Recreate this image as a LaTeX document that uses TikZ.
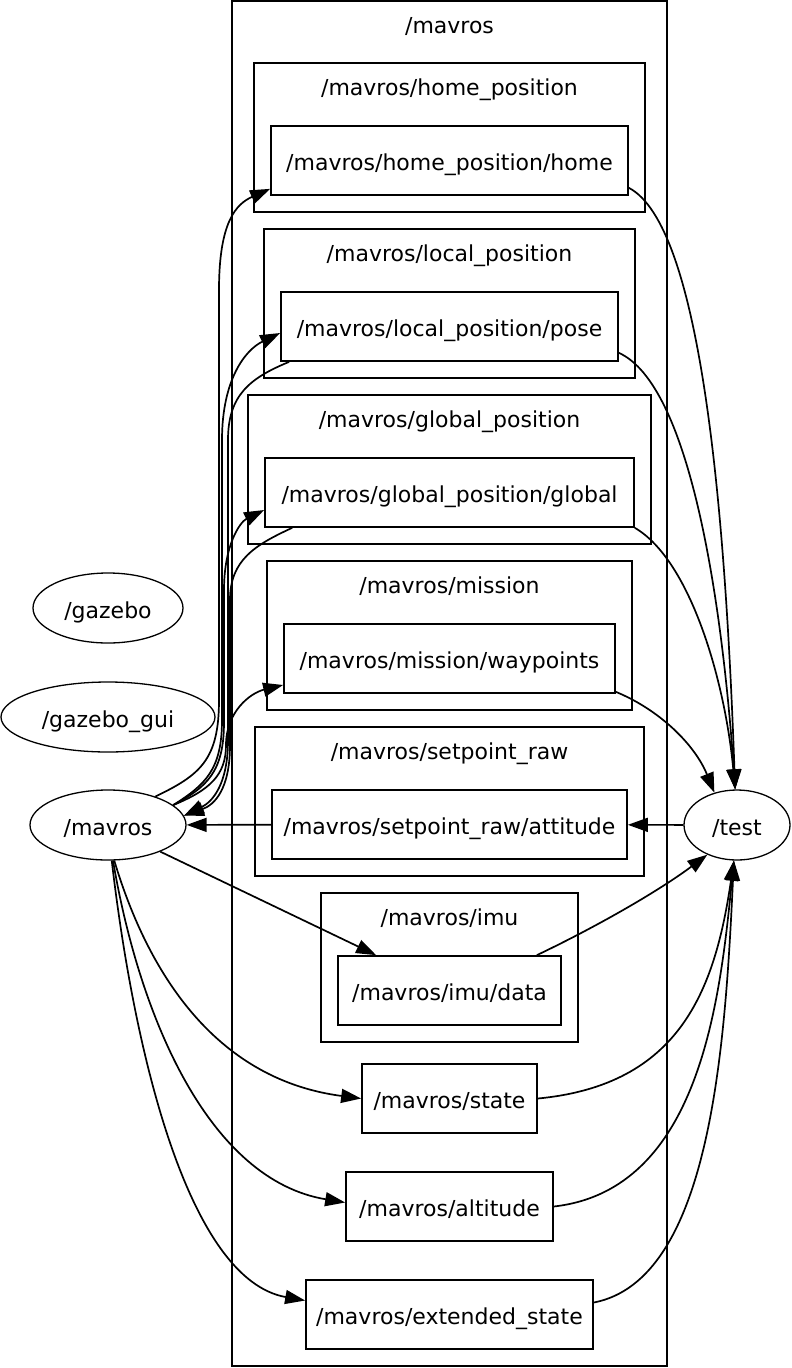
\documentclass[tikz,border=0pt]{standalone}
\usepackage{fontspec}
\setmainfont{DejaVu Sans}
\usetikzlibrary{arrows.meta,shapes.geometric}

\begin{document}
\begin{tikzpicture}[x=1pt,y=-1pt,
            >={Triangle[length=20pt,width=14pt]},
            line width=1.7pt,
            every node/.style={font=\fontsize{22}{26}\selectfont,
                               text height=21pt,text depth=1pt},
            topic/.style={draw,rectangle,minimum height=69pt,inner sep=0pt},
            rosnode/.style={draw,ellipse,minimum height=70pt,inner sep=0pt,
                            line width=1.3pt},
            grouplabel/.style={anchor=base}]

        \useasboundingbox (0,0) rectangle (792,1368);

        % groups
        \draw (232,1)   rectangle (667,1366);
        \draw (254,63)  rectangle (645,212);
        \draw (264,229) rectangle (635,378);
        \draw (248,395) rectangle (651,544);
        \draw (267,561) rectangle (632,710);
        \draw (255,727) rectangle (644,876);
        \draw (321,893) rectangle (578,1042);

        \node[grouplabel] (gmav)   at (449.5,33)  {/mavros};
        \node[grouplabel] (ghome)  at (449.5,95)  {/mavros/home\_position};
        \node[grouplabel] (glocal) at (449.5,261) {/mavros/local\_position};
        \node[grouplabel] (gglob)  at (449.5,427) {/mavros/global\_position};
        \node[grouplabel] (gmiss)  at (449.5,593) {/mavros/mission};
        \node[grouplabel] (gsetp)  at (449.5,759) {/mavros/setpoint\_raw};
        \node[grouplabel] (gimu)   at (449.5,925) {/mavros/imu};

        % topics
        \node[topic,minimum width=357pt] (home)     at (449.5,160.5)  {/mavros/home\_position/home};
        \node[topic,minimum width=337pt] (pose)     at (449.5,326.5)  {/mavros/local\_position/pose};
        \node[topic,minimum width=369pt] (global)   at (449.5,492.5)  {/mavros/global\_position/global};
        \node[topic,minimum width=331pt] (wp)       at (449.5,658.5)  {/mavros/mission/waypoints};
        \node[topic,minimum width=355pt] (att)      at (449.5,824.5)  {/mavros/setpoint\_raw/attitude};
        \node[topic,minimum width=223pt] (imudata)  at (449.5,990.5)  {/mavros/imu/data};
        \node[topic,minimum width=175pt] (mstate)   at (449.5,1098.5) {/mavros/state};
        \node[topic,minimum width=207pt] (alt)      at (449.5,1206.5) {/mavros/altitude};
        \node[topic,minimum width=287pt] (extstate) at (449.5,1314.5) {/mavros/extended\_state};

        % ros nodes
        \node[rosnode,minimum width=150pt] (gazebo) at (108,608) {/gazebo};
        \node[rosnode,minimum width=214pt] (gui)    at (108,717) {/gazebo\_gui};
        \node[rosnode,minimum width=156pt] (mav)    at (108,825) {/mavros};
        \node[rosnode,minimum width=106pt] (test)   at (737,825) {/test};

        % left bundle
        \draw[->] (mav.31) .. controls (200,775) and (219,760) .. (219,700)
              -- (219,290) .. controls (219,222) and (236,204) .. ([yshift=7pt]home.south west);
        \draw[->] (mav.17) .. controls (205,785) and (222,770) .. (222,720)
              -- (222,440) .. controls (222,380) and (245,350) .. ([yshift=-6.5pt]pose.west);
        \draw[->] (mav.17) .. controls (207,787) and (224,772) .. (224,722)
              -- (224,590) .. controls (224,545) and (240,522) .. ([yshift=-17.5pt]global.west);
        \draw[->] (mav.17) .. controls (210,790) and (226,775) .. (226,745)
              .. controls (226,712) and (250,693) .. ([yshift=-26.5pt]wp.west);
        \draw[->] ([xshift=9pt]pose.south west) .. controls (250,378) and (228,395) .. (228,440)
              -- (228,740) .. controls (228,785) and (212,802) .. (mav.7);
        \draw[->] ([xshift=28pt]global.south west) .. controls (255,545) and (230,560) .. (230,600)
              -- (230,745) .. controls (230,790) and (214,805) .. (mav.7);

        % into /test from above
        \draw[->] ([yshift=8pt]home.south east) .. controls (700,225) and (725,500) .. (test.93);
        \draw[->] ([yshift=9pt]pose.south east) .. controls (690,385) and (722,600) .. (test.93);
        \draw[->] (global.south east) .. controls (690,560) and (725,680) .. (test.93);
        \draw[->] ([yshift=2pt]wp.south east) .. controls (660,710) and (695,745) .. (test.125);

        \path (test) edge[->] (att)
              (att)  edge[->] (mav);

        \draw[->] (mav.-27) -- ([xshift=39pt]imudata.north west);
        \draw[->] ([xshift=-25pt]imudata.north east) .. controls (600,925) and (660,890) .. (test.225);

        % lower topics
        \draw[->] (mav.-80) .. controls (150,980) and (220,1080) .. (mstate.west);
        \draw[->] (mav.-82) .. controls (140,1020) and (210,1180) .. ([yshift=4pt]alt.west);
        \draw[->] (mav.-84) .. controls (135,1060) and (190,1280) .. ([yshift=14pt]extstate.west);

        \draw[->] (mstate.east) .. controls (680,1085) and (715,990) .. (test.265);
        \draw[->] (alt.east) .. controls (700,1190) and (720,1000) .. (test.265);
        \draw[->] ([yshift=12pt]extstate.east) .. controls (710,1280) and (725,1050) .. (test.265);

\end{tikzpicture}
\end{document}
